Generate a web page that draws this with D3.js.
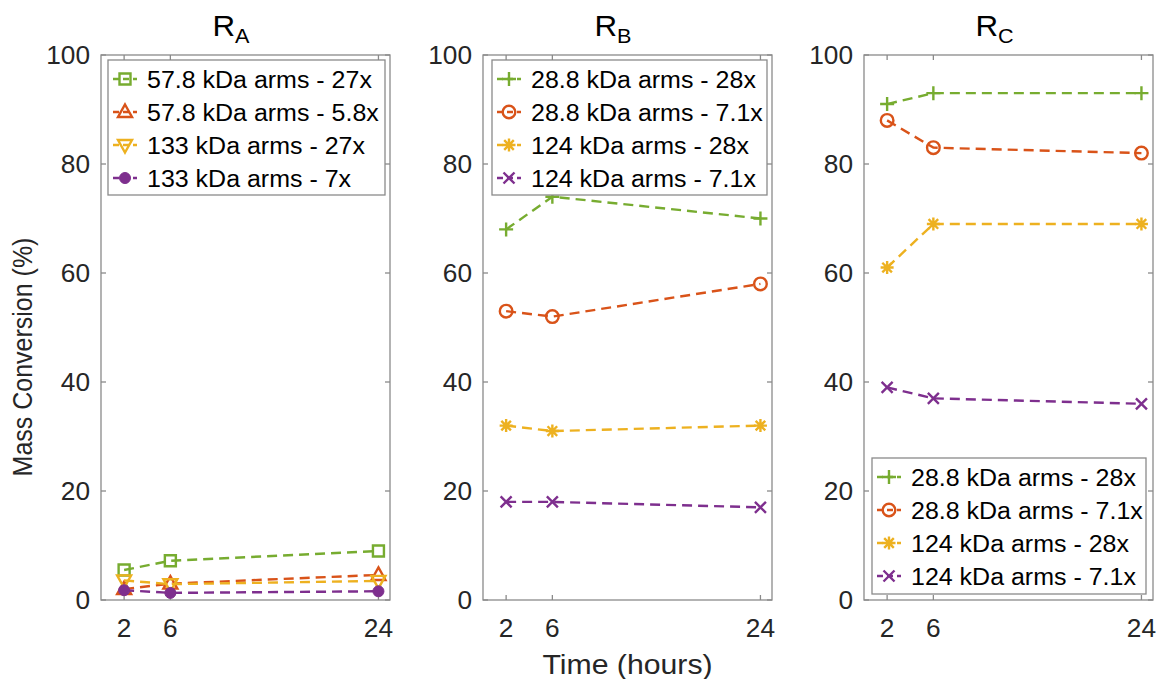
<!DOCTYPE html>
<html>
<head>
<meta charset="utf-8">
<script src="https://cdn.jsdelivr.net/npm/d3@7/dist/d3.min.js"></script>
<style>
  html, body { margin: 0; padding: 0; background: #fff; }
  svg { display: block; }
  text { font-family: "Liberation Sans", Arial, sans-serif; }
</style>
</head>
<body>
<svg id="chart" width="1161" height="679"></svg>
<script>
// ---------------- DATA ----------------
const hours = [2, 6, 24];
const xTicks = [2, 6, 24];
const yTicks = [0, 20, 40, 60, 80, 100];
const titleSubs = ["A", "B", "C"];

const labelsA = ["57.8 kDa arms - 27x", "57.8 kDa arms - 5.8x", "133 kDa arms - 27x", "133 kDa arms - 7x"];
const labelsB = ["28.8 kDa arms - 28x", "28.8 kDa arms - 7.1x", "124 kDa arms - 28x", "124 kDa arms - 7.1x"];
const labelsC = ["28.8 kDa arms - 28x", "28.8 kDa arms - 7.1x", "124 kDa arms - 28x", "124 kDa arms - 7.1x"];

const valuesA = [[5.5, 7.2, 9.0], [2.0, 3.0, 4.6], [3.6, 2.9, 3.5], [1.8, 1.3, 1.6]];
const valuesB = [[68, 74, 70], [53, 52, 58], [32, 31, 32], [18, 18, 17]];
const valuesC = [[91, 93, 93], [88, 83, 82], [61, 69, 69], [39, 37, 36]];

const markersA = ["square", "triUp", "triDown", "dot"];
const markersBC = ["plus", "circle", "asterisk", "cross"];
const colors = ["#77AC30", "#D95319", "#EDB120", "#7E2F8E"];

const xLabel = "Time (hours)";
const yLabel = "Mass Conversion (%)";

// ---------------- LAYOUT ----------------
const svg = d3.select("#chart");
const axTop = 55, axBottom = 600, axW = 289;
const panelLefts = [101, 483, 864];
const axisColor = "#8a8a8a";
const textColor = "#262626";

const panels = [
  { sub: titleSubs[0], labels: labelsA, values: valuesA, markers: markersA, legend: { x: 108, y: 60, w: 277, h: 135 } },
  { sub: titleSubs[1], labels: labelsB, values: valuesB, markers: markersBC, legend: { x: 492, y: 60, w: 275, h: 135 } },
  { sub: titleSubs[2], labels: labelsC, values: valuesC, markers: markersBC, legend: { x: 872, y: 458, w: 274, h: 136 } }
];

const y = d3.scaleLinear().domain([0, 100]).range([axBottom, axTop]);

// horizontally stretched text helper
function stext(g, x0, y0, sx, size, anchor, str, color) {
  return g.append("text")
    .attr("transform", `translate(${x0},${y0}) scale(${sx},1)`)
    .attr("text-anchor", anchor).attr("font-size", size)
    .attr("fill", color).text(str);
}

function markerPath(type) {
  switch (type) {
    case "square": return "M-5.5,-5.5H5.5V5.5H-5.5Z";
    case "triUp": return "M0,-7.5L7,5L-7,5Z";
    case "triDown": return "M0,7.5L7,-5L-7,-5Z";
    case "plus": return "M-7,0H7M0,-7V7";
    case "cross": return "M-5.5,-5.5L5.5,5.5M-5.5,5.5L5.5,-5.5";
    case "asterisk": return "M-6.5,0H6.5M0,-6.5V6.5M-4.8,-4.8L4.8,4.8M-4.8,4.8L4.8,-4.8";
    default: return "";
  }
}

function drawMarker(g, type, color, cx, cy) {
  if (type === "circle") {
    g.append("circle").attr("cx", cx).attr("cy", cy).attr("r", 6.3)
      .attr("fill", "none").attr("stroke", color).attr("stroke-width", 2.4);
  } else if (type === "dot") {
    g.append("circle").attr("cx", cx).attr("cy", cy).attr("r", 5.5)
      .attr("fill", color).attr("stroke", color).attr("stroke-width", 1);
  } else {
    g.append("path").attr("d", markerPath(type))
      .attr("transform", `translate(${cx},${cy})`)
      .attr("fill", "none").attr("stroke", color).attr("stroke-width", 2.4);
  }
}

panels.forEach((p, pi) => {
  const left = panelLefts[pi];
  const x = d3.scaleLinear().domain([0, 25]).range([left, left + axW]);
  const g = svg.append("g");

  // box
  g.append("rect").attr("x", left).attr("y", axTop).attr("width", axW).attr("height", axBottom - axTop)
    .attr("fill", "none").attr("stroke", axisColor).attr("stroke-width", 1.3);

  xTicks.forEach(t => {
    g.append("line").attr("x1", x(t)).attr("x2", x(t)).attr("y1", axBottom).attr("y2", axBottom - 5)
      .attr("stroke", axisColor).attr("stroke-width", 1.3);
    g.append("line").attr("x1", x(t)).attr("x2", x(t)).attr("y1", axTop).attr("y2", axTop + 5)
      .attr("stroke", axisColor).attr("stroke-width", 1.3);
    stext(g, x(t), 637, 1.05, 25, "middle", t, textColor);
  });
  yTicks.forEach(t => {
    g.append("line").attr("x1", left).attr("x2", left + 5).attr("y1", y(t)).attr("y2", y(t))
      .attr("stroke", axisColor).attr("stroke-width", 1.3);
    g.append("line").attr("x1", left + axW).attr("x2", left + axW - 5).attr("y1", y(t)).attr("y2", y(t))
      .attr("stroke", axisColor).attr("stroke-width", 1.3);
    stext(g, left - 11, y(t) + 9, 1.05, 25, "end", t, textColor);
  });

  // title
  const tt = g.append("text")
    .attr("transform", `translate(${left + axW / 2 - 33},36) scale(1.08,1)`)
    .attr("font-size", 29).attr("fill", "#000");
  tt.append("tspan").text("R");
  tt.append("tspan").attr("font-size", 20).attr("dy", 7).text(p.sub);

  // series
  const line = d3.line().x((d, i) => x(hours[i])).y(d => y(d));
  p.values.forEach((vals, si) => {
    g.append("path").datum(vals).attr("d", line)
      .attr("fill", "none").attr("stroke", colors[si]).attr("stroke-width", 2.4)
      .attr("stroke-dasharray", "10,6");
    vals.forEach((v, i) => drawMarker(g, p.markers[si], colors[si], x(hours[i]), y(v)));
  });

  // legend
  const L = p.legend;
  g.append("rect").attr("x", L.x).attr("y", L.y).attr("width", L.w).attr("height", L.h)
    .attr("fill", "#fff").attr("stroke", axisColor).attr("stroke-width", 1.3);
  p.labels.forEach((lab, si) => {
    const cy = L.y + 19 + si * 33;
    g.append("line").attr("x1", L.x + 5).attr("x2", L.x + 29).attr("y1", cy).attr("y2", cy)
      .attr("stroke", colors[si]).attr("stroke-width", 2.4).attr("stroke-dasharray", "6,4");
    drawMarker(g, p.markers[si], colors[si], L.x + 17, cy);
    stext(g, L.x + 39, cy + 8.5, 1.02, 24.5, "start", lab, "#000");
  });
});

// axis labels
stext(svg, 627.5, 674, 1.12, 27, "middle", xLabel, textColor);
svg.append("text").attr("transform", "translate(32,357) rotate(-90) scale(1,1.12)").attr("text-anchor", "middle")
  .attr("font-size", 25).attr("fill", textColor).text(yLabel);
</script>
</body>
</html>
